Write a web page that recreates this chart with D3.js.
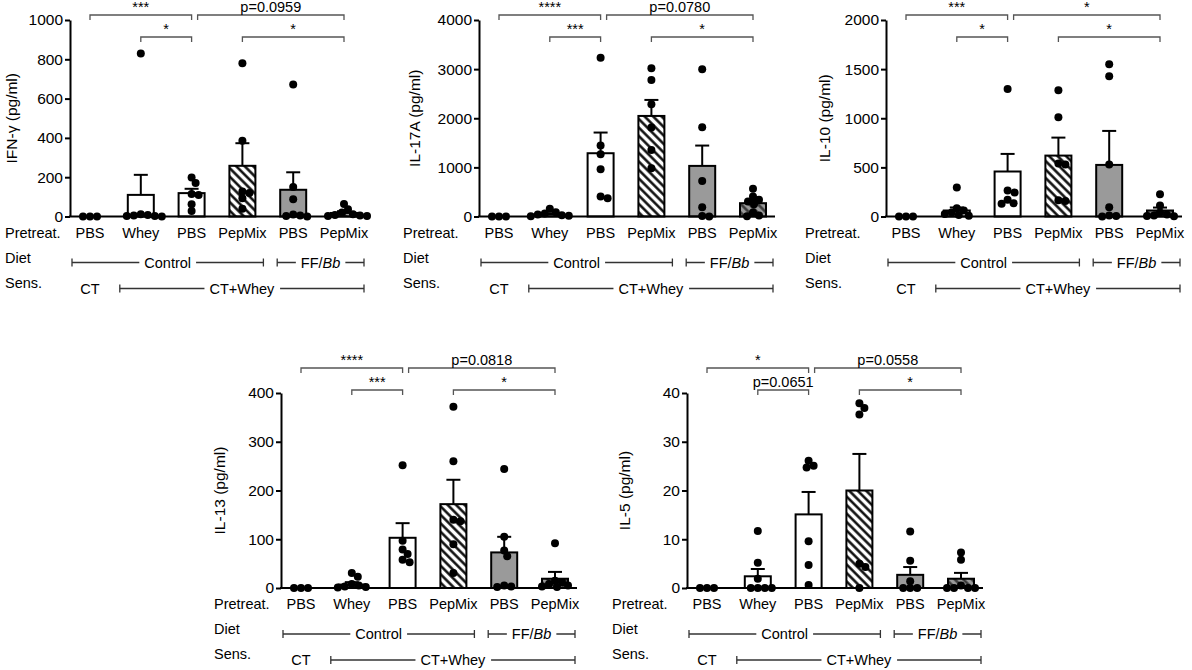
<!DOCTYPE html>
<html>
<head>
<meta charset="utf-8">
<script src="https://cdn.jsdelivr.net/npm/d3@7"></script>
<style>
  body { margin: 0; background: #fff; }
  svg { font-family: "Liberation Sans", Arial, sans-serif; }
</style>
</head>
<body>
<script>
// x groups (pretreatment)
const groupLabels = ['PBS', 'Whey', 'PBS', 'PepMix', 'PBS', 'PepMix'];

// IFN-gamma
const ifngTicks = [0, 200, 400, 600, 800, 1000];
const ifngMeans = [0, 110, 119, 258, 136, 18];
const ifngSem = [0, 102, 22, 115, 89, 9];
const ifngDots = [
    [0, 0, 0],
    [830, 12, 8, 5, 3, 2, 0],
    [198, 170, 115, 110, 62, 28],
    [780, 385, 127, 120, 93, 39],
    [672, 150, 88, 10, 5, 3, 0],
    [64, 37, 20, 12, 8, 5, 3, 2]
];
const ifngSig = [[0, 2, '***', 0], [2, 5, 'p=0.0959', 0], [1, 2, '*', 1], [3, 5, '*', 1]];

// IL-17A
const il17Ticks = [0, 1000, 2000, 3000, 4000];
const il17Means = [0, 45, 1288, 2047, 1030, 271];
const il17Sem = [0, 20, 421, 326, 414, 60];
const il17Dots = [
    [0, 0, 0],
    [156, 88, 60, 40, 25, 15, 5],
    [3234, 1444, 1268, 963, 407, 373],
    [3017, 2780, 2285, 1810, 1356, 983],
    [2997, 1817, 725, 190, 10, 0],
    [563, 407, 339, 305, 250, 80, 20, 5]
];
const il17Sig = [[0, 2, '****', 0], [2, 5, 'p=0.0780', 0], [1, 2, '***', 1], [3, 5, '*', 1]];

// IL-10
const il10Ticks = [0, 500, 1000, 1500, 2000];
const il10Means = [0, 61, 458, 620, 525, 61];
const il10Sem = [0, 31, 179, 183, 346, 30];
const il10Dots = [
    [0, 0, 0],
    [295, 85, 60, 40, 25, 15, 8],
    [1298, 264, 244, 170, 136, 130],
    [1285, 1010, 539, 529, 159, 165],
    [1549, 1427, 529, 95, 10, 5, 0],
    [227, 112, 40, 20, 10, 5, 3]
];
const il10Sig = [[0, 2, '***', 0], [2, 5, '*', 0], [1, 2, '*', 1], [3, 5, '*', 1]];

// IL-13
const il13Ticks = [0, 100, 200, 300, 400];
const il13Means = [0, 7, 103, 172, 73, 19];
const il13Sem = [0, 5, 30, 50, 32, 14];
const il13Dots = [
    [0, 0, 0],
    [31, 23, 8, 5, 3, 2, 1],
    [252, 97, 79, 70, 58, 53],
    [372, 260, 140, 137, 90, 31],
    [244, 105, 77, 65, 5, 3, 2],
    [92, 15, 12, 8, 5, 3, 2]
];
const il13Sig = [[0, 2, '****', 0], [2, 5, 'p=0.0818', 0], [1, 2, '***', 1], [3, 5, '*', 1]];

// IL-5
const il5Ticks = [0, 10, 20, 30, 40];
const il5Means = [0, 2.4, 15.1, 20.0, 2.7, 1.9];
const il5Sem = [0, 1.5, 4.6, 7.5, 1.6, 1.2];
const il5Dots = [
    [0, 0, 0],
    [11.7, 5.2, 1.9, 0, 0, 0, 0],
    [26.1, 25.1, 24.7, 9.6, 4.7, 0.6],
    [37.9, 36.9, 35.6, 5.0, 4.3, 0],
    [11.6, 5.6, 1.4, 0, 0, 0],
    [7.3, 5.8, 0.5, 0, 0, 0, 0]
];
const il5Sig = [[0, 2, '*', 0], [2, 5, 'p=0.0558', 0], [1, 2, 'p=0.0651', 1], [3, 5, '*', 1]];

const panels = [
    { label: 'IFN-γ (pg/ml)', ticks: ifngTicks, means: ifngMeans, sem: ifngSem, dots: ifngDots, sig: ifngSig },
    { label: 'IL-17A (pg/ml)', ticks: il17Ticks, means: il17Means, sem: il17Sem, dots: il17Dots, sig: il17Sig },
    { label: 'IL-10 (pg/ml)', ticks: il10Ticks, means: il10Means, sem: il10Sem, dots: il10Dots, sig: il10Sig },
    { label: 'IL-13 (pg/ml)', ticks: il13Ticks, means: il13Means, sem: il13Sem, dots: il13Dots, sig: il13Sig },
    { label: 'IL-5 (pg/ml)', ticks: il5Ticks, means: il5Means, sem: il5Sem, dots: il5Dots, sig: il5Sig }
];

// where each panel sits on the page
const layout = [
    { ax: 70, top: 20, bottom: 216.5, rowX: 5, labX: 12, br: [15, 37] },
    { ax: 479, top: 20, bottom: 216.5, rowX: 403, labX: 415, br: [15, 37] },
    { ax: 886, top: 20, bottom: 216.5, rowX: 805, labX: 825, br: [15, 37] },
    { ax: 281, top: 393, bottom: 588, rowX: 214, labX: 220, br: [368, 390] },
    { ax: 687, top: 393, bottom: 588, rowX: 612, labX: 625, br: [368, 390] }
];

const fills = ['#fff', '#fff', '#fff', 'url(#hatch)', '#9a9a9a', 'url(#hatchGray)'];
const lineCol = '#333';
const fs = 14.5;

const svg = d3.select('body').append('svg').attr('width', 1192).attr('height', 670);

const defs = svg.append('defs');
const hatch = defs.append('pattern').attr('id', 'hatch')
    .attr('patternUnits', 'userSpaceOnUse').attr('width', 6).attr('height', 6)
    .attr('patternTransform', 'rotate(-45)');
hatch.append('rect').attr('width', 6).attr('height', 6).attr('fill', '#fff');
hatch.append('line').attr('x1', 1.5).attr('x2', 1.5).attr('y1', 0).attr('y2', 6)
    .attr('stroke', '#000').attr('stroke-width', 2.4);
const hatchG = defs.append('pattern').attr('id', 'hatchGray')
    .attr('patternUnits', 'userSpaceOnUse').attr('width', 6).attr('height', 6)
    .attr('patternTransform', 'rotate(-45)');
hatchG.append('rect').attr('width', 6).attr('height', 6).attr('fill', '#9a9a9a');
hatchG.append('line').attr('x1', 1.5).attr('x2', 1.5).attr('y1', 0).attr('y2', 6)
    .attr('stroke', '#333').attr('stroke-width', 2.4);

// spread overlapping dots sideways, GraphPad style (some overlap allowed)
function swarm(vals, cx, y, r) {
    const placed = [];
    const minD = 2 * r * 0.82;
    vals.slice().sort((a, b) => b - a).forEach(v => {
        const py = y(v);
        for (let k = 0; k < 200; k++) {
            const off = k === 0 ? 0 : (k % 2 ? 1 : -1) * Math.ceil(k / 2);
            const px = cx + off;
            if (placed.every(p => (p.x - px) ** 2 + (p.y - py) ** 2 >= minD * minD)) {
                placed.push({ x: px, y: py });
                break;
            }
        }
    });
    return placed;
}

function hLine(g, x1, x2, yy) {
    g.append('line').attr('x1', x1).attr('x2', x2).attr('y1', yy).attr('y2', yy)
        .attr('stroke', lineCol).attr('stroke-width', 1.3);
    [x1, x2].forEach(xx => g.append('line').attr('x1', xx).attr('x2', xx)
        .attr('y1', yy - 4).attr('y2', yy + 4).attr('stroke', lineCol).attr('stroke-width', 1.3));
}

function labelOnLine(g, x1, x2, yy, build) {
    hLine(g, x1, x2, yy);
    const t = g.append('text').attr('x', (x1 + x2) / 2).attr('y', yy).attr('dy', '0.35em')
        .attr('text-anchor', 'middle').attr('font-size', fs);
    build(t);
    const bb = t.node().getBBox();
    g.insert('rect', () => t.node()).attr('x', bb.x - 5).attr('y', bb.y).attr('width', bb.width + 10)
        .attr('height', bb.height).attr('fill', '#fff');
}

panels.forEach((p, pi) => {
    const L = layout[pi];
    const g = svg.append('g');
    const x = d3.scalePoint().domain(d3.range(6)).range([L.ax + 20, L.ax + 274]);
    const y = d3.scaleLinear().domain([0, d3.max(p.ticks)]).range([L.bottom, L.top]);
    const rows = p.means.map((m, i) => ({ i, m, s: p.sem[i] }));

    // bars
    g.selectAll('rect.bar').data(rows).join('rect')
        .attr('class', 'bar')
        .attr('x', d => x(d.i) - 13)
        .attr('width', 26)
        .attr('y', d => y(d.m))
        .attr('height', d => y(0) - y(d.m))
        .attr('fill', d => fills[d.i])
        .attr('stroke', '#000')
        .attr('stroke-width', 2);

    // SEM (upper only)
    const withErr = rows.filter(d => d.s > 0);
    g.selectAll('line.errv').data(withErr).join('line')
        .attr('class', 'errv')
        .attr('x1', d => x(d.i)).attr('x2', d => x(d.i))
        .attr('y1', d => y(d.m)).attr('y2', d => y(d.m + d.s))
        .attr('stroke', '#000').attr('stroke-width', 2);
    g.selectAll('line.errc').data(withErr).join('line')
        .attr('class', 'errc')
        .attr('x1', d => x(d.i) - 7).attr('x2', d => x(d.i) + 7)
        .attr('y1', d => y(d.m + d.s)).attr('y2', d => y(d.m + d.s))
        .attr('stroke', '#000').attr('stroke-width', 2);

    // axes
    const yAxis = g.append('g').attr('transform', `translate(${L.ax},0)`)
        .call(d3.axisLeft(y).tickValues(p.ticks).tickFormat(d3.format('d')).tickSize(5).tickSizeOuter(0).tickPadding(2));
    yAxis.select('.domain').attr('stroke', '#000').attr('stroke-width', 2);
    yAxis.selectAll('.tick line').attr('stroke', '#000').attr('stroke-width', 2);
    yAxis.selectAll('.tick text').attr('fill', '#000').attr('font-size', 15.5)
        .attr('font-family', '"Liberation Sans", Arial, sans-serif');
    g.append('line').attr('x1', L.ax - 1).attr('x2', L.ax + 296).attr('y1', y(0)).attr('y2', y(0))
        .attr('stroke', '#000').attr('stroke-width', 2);

    // dots
    p.dots.forEach((vals, i) => {
        g.selectAll(null).data(swarm(vals, x(i), y, 4)).join('circle')
            .attr('cx', d => d.x).attr('cy', d => d.y).attr('r', 4).attr('fill', '#000');
    });

    g.append('text')
        .attr('transform', `translate(${L.labX},${(L.top + L.bottom) / 2}) rotate(-90)`)
        .attr('dy', '0.35em')
        .attr('text-anchor', 'middle')
        .attr('font-size', 15.5)
        .text(p.label);

    // significance brackets
    p.sig.forEach(([a, b, txt, row]) => {
        const yy = L.br[row];
        const x1 = x(a) + (row === 0 && a === 2 ? 6 : 0);
        const x2 = x(b);
        g.append('path')
            .attr('d', `M${x1},${yy + 5}V${yy}H${x2}V${yy + 5}`)
            .attr('fill', 'none').attr('stroke', '#555').attr('stroke-width', 1.3);
        g.append('text').attr('x', (x1 + x2) / 2).attr('y', yy - 3)
            .attr('text-anchor', 'middle').attr('font-size', fs).text(txt);
    });

    // group rows under the axis
    const b0 = L.bottom;
    g.selectAll('text.pre').data(groupLabels).join('text')
        .attr('class', 'pre')
        .attr('x', (d, i) => x(i)).attr('y', b0 + 16).attr('dy', '0.35em')
        .attr('text-anchor', 'middle').attr('font-size', fs).text(d => d);
    [['Pretreat.', 16], ['Diet', 41], ['Sens.', 66]].forEach(([t, dy]) => {
        g.append('text').attr('x', L.rowX).attr('y', b0 + dy).attr('dy', '0.35em')
            .attr('font-size', fs).text(t);
    });
    labelOnLine(g, x(0) - 18, x(3) + 21, b0 + 46, t => t.text('Control'));
    labelOnLine(g, x(4) - 16, x(5) + 20, b0 + 46, t => {
        t.append('tspan').text('FF/');
        t.append('tspan').attr('font-style', 'italic').text('Bb');
    });
    g.append('text').attr('x', x(0)).attr('y', b0 + 72).attr('dy', '0.35em')
        .attr('text-anchor', 'middle').attr('font-size', fs).text('CT');
    labelOnLine(g, x(1) - 21, x(5) + 20, b0 + 72, t => t.text('CT+Whey'));
});
</script>
</body>
</html>
